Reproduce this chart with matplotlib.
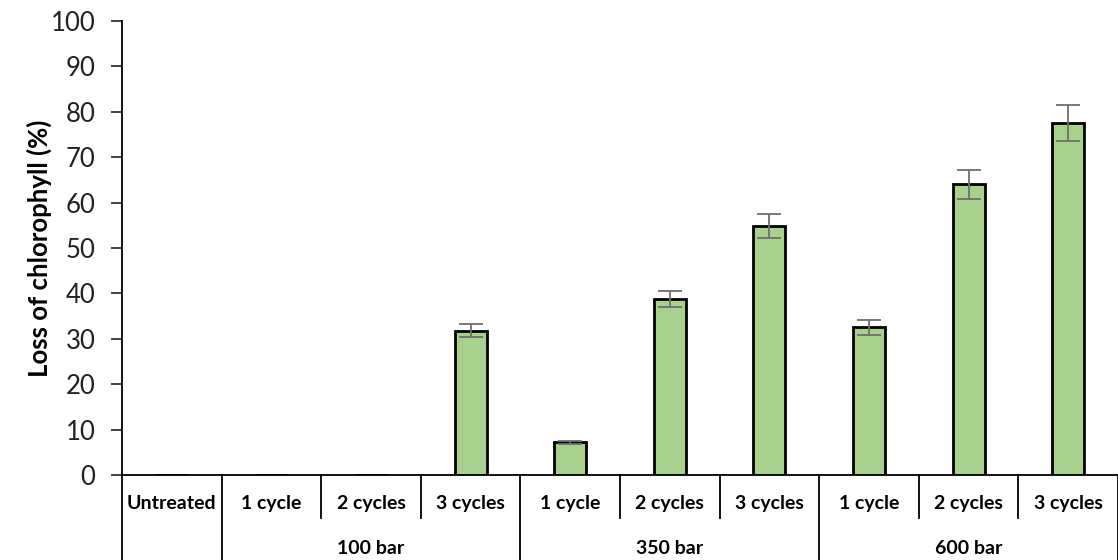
import numpy as np
import matplotlib.pyplot as plt
from matplotlib.transforms import blended_transform_factory

plt.rcParams['font.family'] = ['Lato', 'DejaVu Sans']

# data
cycles = ['Untreated', '1 cycle', '2 cycles', '3 cycles',
          '1 cycle', '2 cycles', '3 cycles',
          '1 cycle', '2 cycles', '3 cycles']
groups = ['100 bar', '350 bar', '600 bar']
loss = [0, 0, 0, 31.8, 7.2, 38.8, 54.8, 32.5, 64.0, 77.5]
err = [0, 0, 0, 1.4, 0.3, 1.7, 2.6, 1.6, 3.2, 3.9]

fig = plt.figure(figsize=(11.18, 5.6), dpi=100)
ax = fig.add_axes([122 / 1118, 85 / 560, 996 / 1118, 454 / 560])

x = np.arange(len(loss))
ax.bar(x, loss, width=0.32, color='#a9d18e', edgecolor='black', linewidth=2, zorder=2)
ax.errorbar(x[3:], loss[3:], yerr=err[3:], fmt='none', ecolor='#6e6e6e',
            elinewidth=1.3, capsize=8.5, capthick=1.3, zorder=3)

ax.set_xlim(-0.5, 9.5)
ax.set_ylim(0, 100)
ax.set_yticks(range(0, 101, 10))
ax.tick_params(axis='y', labelsize=18.5, length=8, width=1.2, pad=11, colors='#222222')
ax.tick_params(axis='x', bottom=False, labelbottom=False)
for s in ['top', 'right']:
    ax.spines[s].set_visible(False)
ax.spines['left'].set_linewidth(1.3)
ax.spines['bottom'].set_linewidth(1.3)
ax.set_ylabel('Loss of chlorophyll (%)', fontsize=18.5, fontweight='bold', labelpad=-1)

# multi-level category axis
tr = blended_transform_factory(ax.transData, ax.transAxes)
long_lines = [-0.5, 0.5, 3.5, 6.5, 9.5]
for b in np.arange(-0.5, 10, 1.0):
    y_end = -0.187 if b in long_lines else -0.095
    ax.plot([b, b], [0, y_end], color='black', lw=1.3, transform=tr, clip_on=False)
for i, c in enumerate(cycles):
    ax.text(i, -0.062, c, transform=tr, ha='center', va='center',
            fontsize=14, fontweight='bold')
for g, c in zip(groups, [2, 5, 8]):
    ax.text(c, -0.161, g, transform=tr, ha='center', va='center',
            fontsize=14, fontweight='bold')

plt.savefig('out.png', dpi=100)
